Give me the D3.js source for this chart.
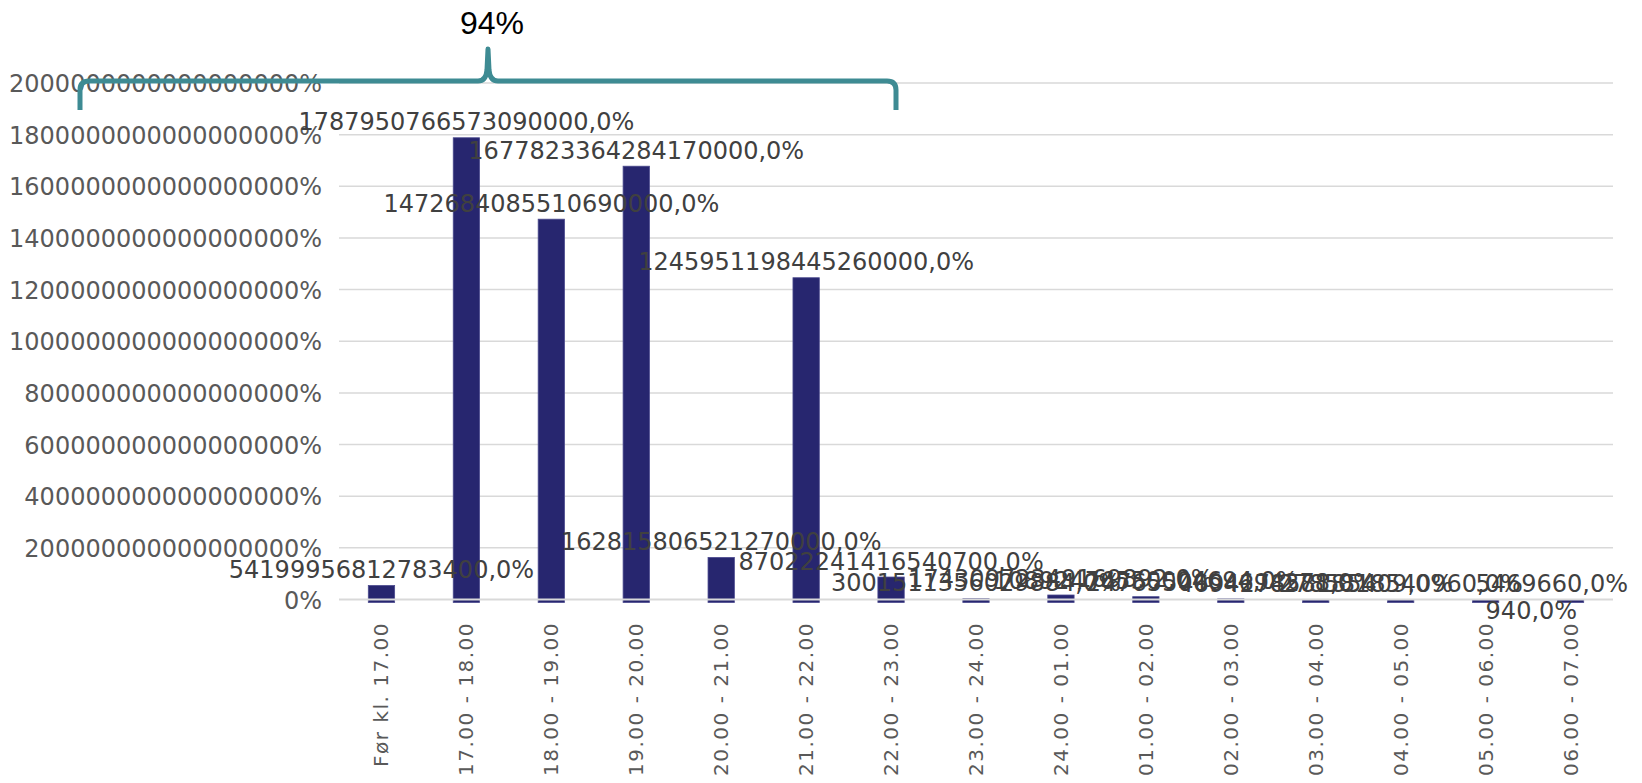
<!DOCTYPE html>
<html>
<head>
<meta charset="utf-8" />
<script src="https://cdn.jsdelivr.net/npm/d3@7"></script>
<style>
	body { margin: 0; background: #ffffff; }
	.ytick { font-family: "DejaVu Sans"; font-size: 24px; fill: #595959; }
	.xtick { font-family: "DejaVu Sans"; font-size: 20px; letter-spacing: 1.5px; fill: #595959; }
	.barlabel { font-family: "DejaVu Sans"; font-size: 24px; fill: #404040; }
	.brace-text { font-family: "Liberation Sans"; font-size: 32px; fill: #000000; }
</style>
</head>
<body>
<script>
	var width = 1642;
	var height = 783;

	// tider
	var categories = ["Før kl. 17.00", "17.00 - 18.00", "18.00 - 19.00", "19.00 - 20.00",
		"20.00 - 21.00", "21.00 - 22.00", "22.00 - 23.00", "23.00 - 24.00",
		"24.00 - 01.00", "01.00 - 02.00", "02.00 - 03.00", "03.00 - 04.00",
		"04.00 - 05.00", "05.00 - 06.00", "06.00 - 07.00"];

	// andel i procent (som vist i dataetiketterne)
	var values = [54199956812783400, 1787950766573090000, 1472684085510690000, 1677823364284170000,
		162815806521270000, 1245951198445260000, 87022241416540700, 3001511356029884,
		17430972349169892, 10892476550004694, 2476550004694278, 469427858185409,
		2785818540960, -940, 5469660];

	var yTicks = [0, 200000000000000000, 400000000000000000, 600000000000000000,
		800000000000000000, 1000000000000000000, 1200000000000000000, 1400000000000000000,
		1600000000000000000, 1800000000000000000, 2000000000000000000];

	var braceLabel = "94%";

	var svg = d3.select("body").append("svg")
		.attr("width", width)
		.attr("height", height);

	svg.append("rect").attr("width", width).attr("height", height).attr("fill", "white");

	var x = d3.scaleBand()
		.domain(categories)
		.range([339, 1613])
		.paddingInner(0.69)
		.paddingOuter(0.345);

	var y = d3.scaleLinear()
		.domain([0, 2000000000000000000])
		.range([599.5, 83]);

	// gitterlinjer
	svg.append("g").selectAll("line")
		.data(yTicks.filter(function(d) { return d > 0; }))
		.enter().append("line")
		.attr("x1", 339).attr("x2", 1613)
		.attr("y1", function(d) { return y(d); })
		.attr("y2", function(d) { return y(d); })
		.attr("stroke", "#d9d9d9")
		.attr("stroke-width", 1.5);

	var yAxis = d3.axisLeft(y)
		.tickValues(yTicks)
		.tickSize(0)
		.tickPadding(0)
		.tickFormat(function(d) { return String(d) + "%"; });

	var ya = svg.append("g").attr("transform", "translate(322,0)").call(yAxis);
	ya.select(".domain").remove();
	ya.selectAll("text").attr("class", "ytick").attr("fill", null).attr("dy", "0.36em");

	// søjler
	svg.append("g").selectAll("rect")
		.data(values)
		.enter().append("rect")
		.attr("x", function(d, i) { return x(categories[i]); })
		.attr("width", x.bandwidth())
		.attr("y", function(d) { return Math.min(y(d), y(0)); })
		.attr("height", function(d) { return Math.abs(y(d) - y(0)) + 3; })
		.attr("fill", "#27266f")
		.attr("stroke", "#4b4a8e")
		.attr("stroke-width", 0.8);

	// nullinje oven på søjlerne
	svg.append("line")
		.attr("x1", 339).attr("x2", 1613)
		.attr("y1", y(0)).attr("y2", y(0))
		.attr("stroke", "#d9d9d9")
		.attr("stroke-width", 2);

	// x-akse etiketter
	var xAxis = d3.axisBottom(x).tickSize(0).tickPadding(0);
	var xa = svg.append("g").attr("transform", "translate(0,622)").call(xAxis);
	xa.select(".domain").remove();
	xa.selectAll("text")
		.attr("class", "xtick")
		.attr("fill", null)
		.attr("transform", "rotate(-90)")
		.attr("text-anchor", "end")
		.attr("x", 0)
		.attr("y", 0)
		.attr("dy", "0.35em");

	// dataetiketter
	var labels = svg.append("g").selectAll("text")
		.data(values)
		.enter().append("text")
		.attr("class", "barlabel")
		.attr("text-anchor", function(d) { return d < 0 ? "start" : "middle"; })
		.attr("x", function(d, i) { return x(categories[i]) + x.bandwidth() / 2; })
		.attr("y", function(d) { return d < 0 ? y(0) + 19 : y(d) - 7.5; })
		.text(function(d) { return String(Math.abs(d)) + ",0%"; });

	// hold etiketterne inden for diagrammet
	labels.each(function() {
		var b = this.getBBox();
		var cx = +d3.select(this).attr("x");
		if (b.x + b.width > 1628) d3.select(this).attr("x", cx - (b.x + b.width - 1628));
	});

	// klamme
	var brace = d3.path();
	brace.moveTo(80, 110);
	brace.lineTo(80, 90);
	brace.quadraticCurveTo(80, 81, 89, 81);
	brace.lineTo(478, 81);
	brace.quadraticCurveTo(486, 81, 487, 70);
	brace.lineTo(488, 49);
	brace.lineTo(489, 70);
	brace.quadraticCurveTo(490, 81, 498, 81);
	brace.lineTo(887, 81);
	brace.quadraticCurveTo(896, 81, 896, 90);
	brace.lineTo(896, 110);

	svg.append("path")
		.attr("d", brace.toString())
		.attr("fill", "none")
		.attr("stroke", "#3e8b93")
		.attr("stroke-width", 5)
		.attr("stroke-linejoin", "round");

	svg.append("text")
		.attr("class", "brace-text")
		.attr("x", 492)
		.attr("y", 34)
		.attr("text-anchor", "middle")
		.text(braceLabel);
</script>
</body>
</html>
